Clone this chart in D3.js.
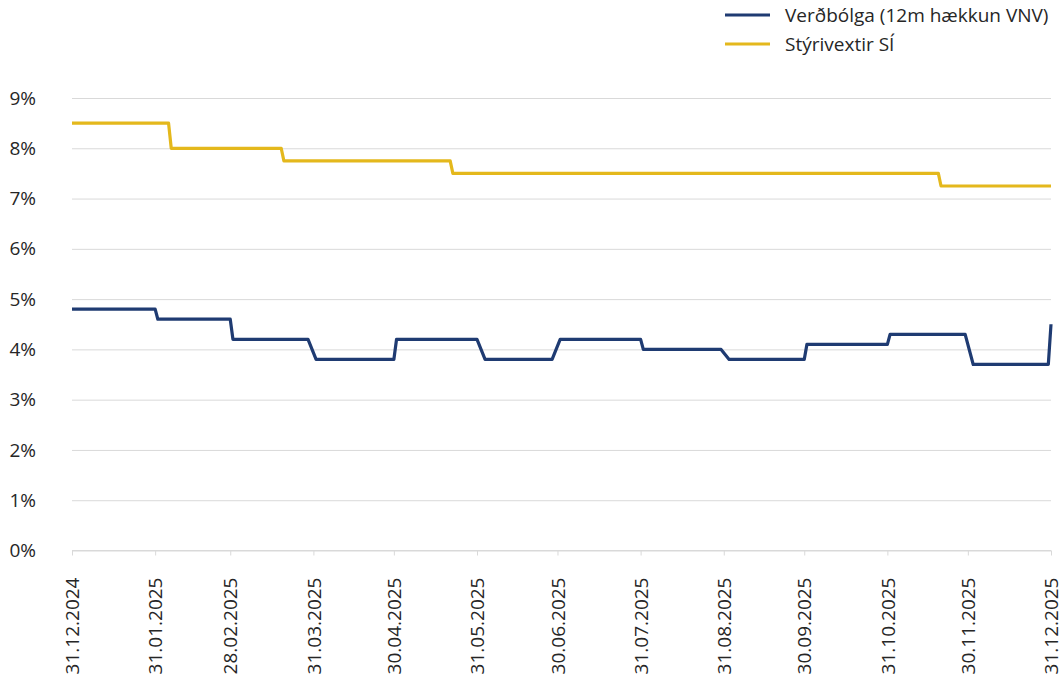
<!DOCTYPE html>
<html>
<head>
<meta charset="utf-8">
<script src="https://cdn.jsdelivr.net/npm/d3@7"></script>
<style>
  body { margin: 0; background: #fff; }
  text { font-family: "Open Sans", sans-serif; fill: #262626; }
</style>
</head>
<body>
<div id="chart"></div>
<script>
// series names
const seriesNames = ["Verðbólga (12m hækkun VNV)", "Stýrivextir SÍ"];
const seriesColors = ["#1f3b72", "#e4b81c"];

// inflation, step vertices
const inflDates = ["2024-12-31","2025-01-31","2025-02-01","2025-02-28","2025-03-01","2025-03-29","2025-04-01",
  "2025-04-30","2025-05-01","2025-05-31","2025-06-03","2025-06-28","2025-07-01","2025-07-31","2025-08-01",
  "2025-08-30","2025-09-02","2025-09-30","2025-10-01","2025-10-31","2025-11-01","2025-11-29","2025-12-02",
  "2025-12-30","2025-12-31"];
const inflValues = [4.8,4.8,4.6,4.6,4.2,4.2,3.8,3.8,4.2,4.2,3.8,3.8,4.2,4.2,4.0,4.0,3.8,3.8,4.1,4.1,4.3,4.3,3.7,3.7,4.5];

// policy rate, step vertices
const rateDates = ["2024-12-31","2025-02-05","2025-02-06","2025-03-19","2025-03-20","2025-05-21","2025-05-22",
  "2025-11-19","2025-11-20","2025-12-31"];
const rateValues = [8.5,8.5,8.0,8.0,7.75,7.75,7.5,7.5,7.25,7.25];

// x tick labels (month ends)
const tickDates = ["2024-12-31","2025-01-31","2025-02-28","2025-03-31","2025-04-30","2025-05-31","2025-06-30",
  "2025-07-31","2025-08-31","2025-09-30","2025-10-31","2025-11-30","2025-12-31"];
const yTicks = [0,1,2,3,4,5,6,7,8,9];

const W = 1060, H = 680;
const margin = { left: 72, right: 9, top: 98, bottom: 129.5 };
const parse = d3.utcParse("%Y-%m-%d");
const fmt = d3.utcFormat("%d.%m.%Y");

const svg = d3.select("#chart").append("svg")
  .attr("width", W).attr("height", H);

const x = d3.scaleUtc()
  .domain([parse(tickDates[0]), parse(tickDates[tickDates.length - 1])])
  .range([margin.left, W - margin.right]);

const y = d3.scaleLinear()
  .domain([0, 9])
  .range([H - margin.bottom, margin.top]);

// grid + y labels
const yAxis = d3.axisLeft(y)
  .tickValues(yTicks)
  .tickSize(-(W - margin.left - margin.right))
  .tickPadding(36)
  .tickFormat(d => d + "%");

svg.append("g")
  .attr("transform", `translate(${margin.left},0)`)
  .call(yAxis)
  .call(g => g.select(".domain").remove())
  .call(g => g.selectAll(".tick line").attr("stroke", "#d9d9d9").attr("stroke-width", 1))
  .call(g => g.selectAll(".tick text")
    .attr("x", -36)
    .attr("font-size", 19)
    .style("font-family", "'Open Sans', sans-serif")
    .attr("fill", "#262626"));

// x axis
const xAxis = d3.axisBottom(x)
  .tickValues(tickDates.map(parse))
  .tickSize(5)
  .tickFormat(fmt);

svg.append("g")
  .attr("transform", `translate(0,${y(0)})`)
  .call(xAxis)
  .call(g => g.select(".domain").attr("stroke", "#d9d9d9").attr("d", `M${x.range()[0]},0H${x.range()[1]}`))
  .call(g => g.selectAll(".tick line").attr("stroke", "#d9d9d9"))
  .call(g => g.selectAll(".tick text")
    .attr("font-size", 19)
    .style("font-family", "'Open Sans', sans-serif")
    .attr("fill", "#262626")
    .attr("transform", "rotate(-90)")
    .attr("text-anchor", "end")
    .attr("x", -27)
    .attr("y", 0)
    .attr("dy", "0.35em"));

// lines
const lineGen = d3.line()
  .x(d => x(d.date))
  .y(d => y(d.value));

const infl = inflDates.map((d, i) => ({ date: parse(d), value: inflValues[i] }));
const rate = rateDates.map((d, i) => ({ date: parse(d), value: rateValues[i] }));

[infl, rate].forEach((data, i) => {
  svg.append("path")
    .datum(data)
    .attr("fill", "none")
    .attr("stroke", seriesColors[i])
    .attr("stroke-width", 3.2)
    .attr("stroke-linejoin", "round")
    .attr("d", lineGen);
});

// legend
const legend = svg.append("g").attr("transform", "translate(725,15)");
seriesNames.forEach((name, i) => {
  const row = legend.append("g").attr("transform", `translate(0,${i * 29})`);
  row.append("line")
    .attr("x1", 0).attr("x2", 45)
    .attr("stroke", seriesColors[i])
    .attr("stroke-width", 3);
  row.append("text")
    .attr("x", 60)
    .attr("dy", "0.35em")
    .attr("font-size", 19)
    .text(name);
});
</script>
</body>
</html>
